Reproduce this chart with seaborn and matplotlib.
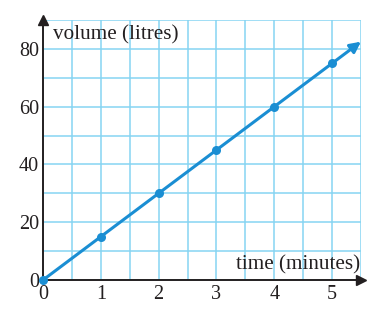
import matplotlib
matplotlib.use("Agg")
import matplotlib.pyplot as plt
from matplotlib.ticker import MultipleLocator
import seaborn as sns
import pandas as pd

time_min = [0, 1, 2, 3, 4, 5]
volume_l = [0, 15, 30, 45, 60, 75]
x_ticks = [0, 1, 2, 3, 4, 5]
y_ticks = [0, 20, 40, 60, 80]
x_label = "time (minutes)"
y_label = "volume (litres)"

sns.set_theme(style="white")
plt.rcParams['font.family'] = ['Liberation Serif', 'DejaVu Serif']

df = pd.DataFrame({"t": time_min, "v": volume_l})

fig = plt.figure(figsize=(3.88, 3.21), dpi=100)
ax = fig.add_axes([43/388, 41/321, 318/388, 260/321])

line_col = "#1a8ed3"
grid_col = "#86d4f2"
text_col = "#231f20"

ax.set_xlim(0, 5.5)
ax.set_ylim(0, 90)
ax.xaxis.set_major_locator(MultipleLocator(1))
ax.xaxis.set_minor_locator(MultipleLocator(0.5))
ax.yaxis.set_major_locator(MultipleLocator(20))
ax.yaxis.set_minor_locator(MultipleLocator(10))
ax.set_xticks(x_ticks)
ax.set_yticks(y_ticks)
ax.grid(True, which="both", color=grid_col, linewidth=1.1, zorder=0)
ax.set_axisbelow(True)

for s in ["top", "right"]:
    ax.spines[s].set_visible(False)
for s in ["left", "bottom"]:
    ax.spines[s].set_color(text_col)
    ax.spines[s].set_linewidth(1.4)
    ax.spines[s].set_zorder(5)

ax.tick_params(axis="both", which="both", length=0, labelsize=14.5, colors=text_col)
ax.tick_params(axis="x", pad=3.5)
ax.tick_params(axis="y", pad=3)

# extended line with arrow head
slope = volume_l[-1] / time_min[-1]
ax.annotate("", xy=(5.5, 5.5 * slope), xytext=(time_min[-1], volume_l[-1]),
            arrowprops=dict(arrowstyle="-|>", color=line_col, lw=2.2,
                            mutation_scale=16, shrinkA=0, shrinkB=0))
sns.lineplot(data=df, x="t", y="v", ax=ax, color=line_col, linewidth=2.2,
             marker="o", markersize=6.5, markeredgewidth=0, clip_on=False, zorder=6)

ax.set_xlabel("")
ax.set_ylabel("")

# axis arrows
ax.plot([0], [1], marker="^", color=text_col, markersize=7, transform=ax.transAxes, clip_on=False, zorder=7)
ax.plot([1], [0], marker=">", color=text_col, markersize=7, transform=ax.transAxes, clip_on=False, zorder=7)

ax.text(0.17, 85, y_label, fontsize=15.2, ha="left", va="center", color=text_col)
ax.text(5.49, 5.3, x_label, fontsize=15.2, ha="right", va="center", color=text_col)

fig.savefig("out.png", dpi=100)
